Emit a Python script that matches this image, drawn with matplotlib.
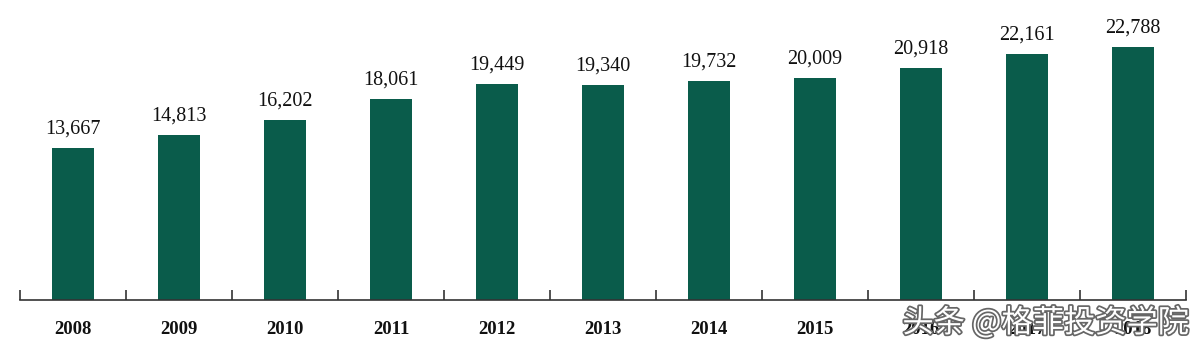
import matplotlib.pyplot as plt
import matplotlib.patheffects as pe
import numpy as np

years = ['2008', '2009', '2010', '2011', '2012', '2013', '2014', '2015', '2016', '2017', '2018']
values = [13667, 14813, 16202, 18061, 19449, 19340, 19732, 20009, 20918, 22161, 22788]

bar_color = '#0a5c4b'
serif = ['Liberation Serif', 'DejaVu Serif']

fig = plt.figure(figsize=(12, 3.5), dpi=100)
ax = fig.add_axes([20/1200, 50/350, 1166/1200, 300/350])

x = np.arange(len(years))
ax.bar(x, values, width=0.4, color=bar_color)

for xi, v in zip(x, values):
    ax.text(xi, v + 850, f'{v:,}', ha='center', va='bottom',
            fontsize=14.5, family=serif, color='#111111')

ax.set_xlim(-0.5, len(years) - 0.5)
ax.set_ylim(0, 27000)

ax.set_xticks(x)
ax.set_xticklabels(years, family=serif, fontsize=13.5, fontweight='bold', color='#111111')
ax.tick_params(axis='x', which='major', length=0, pad=15)
ax.set_xticks(np.arange(len(years) + 1) - 0.5, minor=True)
ax.tick_params(axis='x', which='minor', direction='in', length=7, width=1.2, color='#333333')

ax.set_yticks([])
for side in ['left', 'top', 'right']:
    ax.spines[side].set_visible(False)
ax.spines['bottom'].set_color('#333333')
ax.spines['bottom'].set_linewidth(1.2)

# watermark over the last year labels
fig.text(0.752, 27/350, '头条 @格菲投资学院', ha='left', va='center', fontsize=22.5,
         family=['Noto Sans CJK SC', 'DejaVu Sans'], color='white', zorder=10,
         path_effects=[pe.withStroke(linewidth=2.5, foreground='#666666')])

fig.savefig('out.png', dpi=100)
